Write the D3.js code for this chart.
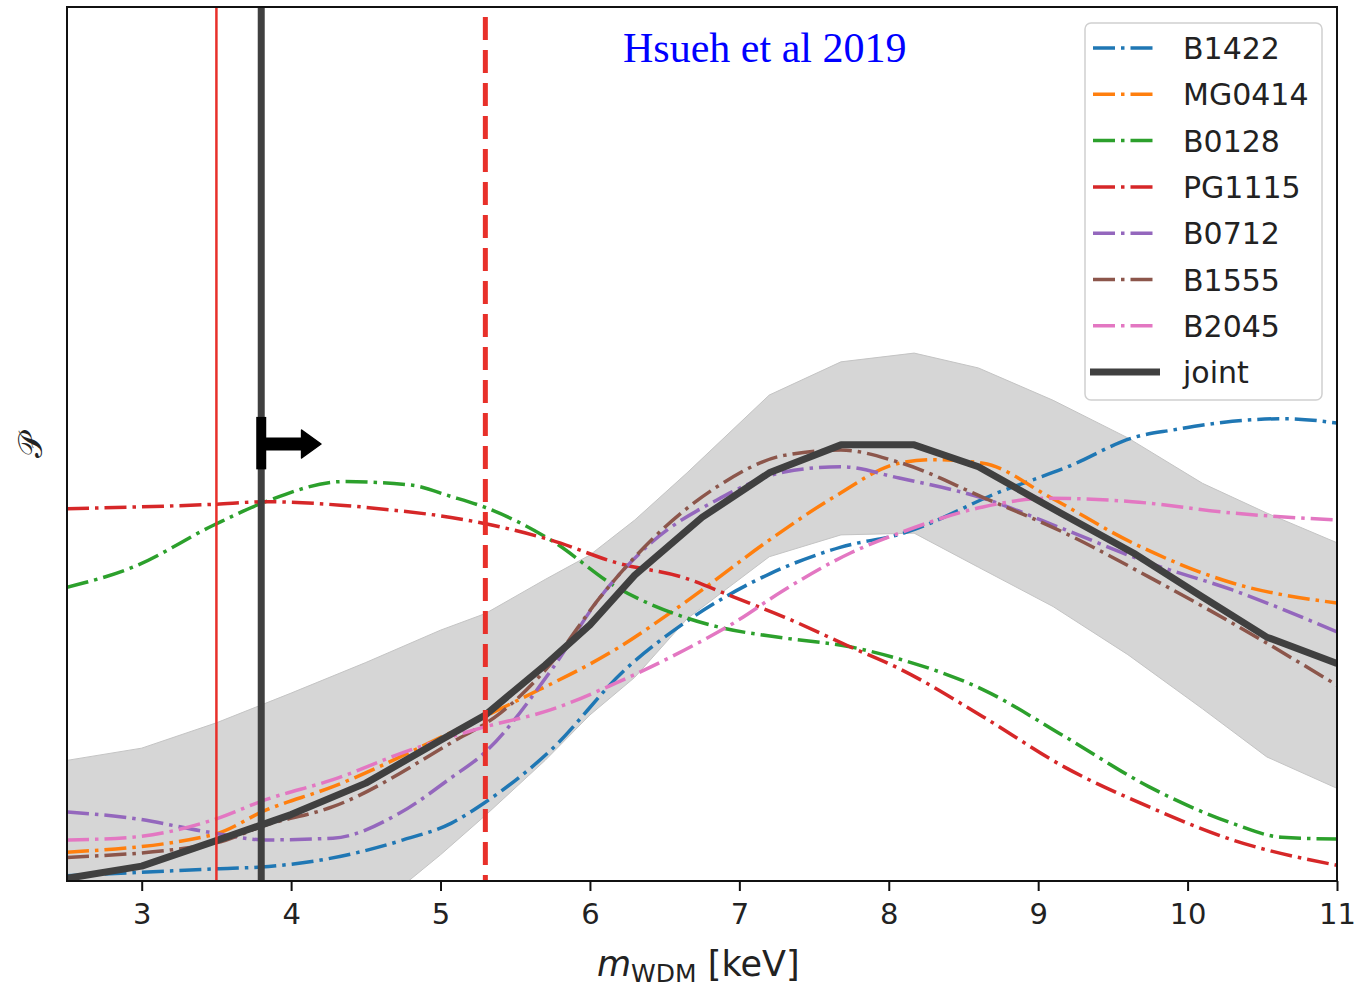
<!DOCTYPE html>
<html>
<head>
<meta charset="utf-8">
<script src="https://cdn.jsdelivr.net/npm/d3@7"></script>
<style>
  html, body { margin: 0; padding: 0; background: #fff; }
  svg { font-family: "DejaVu Sans", sans-serif; }
</style>
</head>
<body>
<div id="chart"></div>
<script>
// P(m_WDM) for each lens, plus joint and its band
// values are read off the figure, y in arbitrary units (0..1 = plot height)

const xTicks = [3, 4, 5, 6, 7, 8, 9, 10, 11];

const B1422 = [[2.5,0.006],[3.0,0.010],[3.5,0.014],[3.8,0.016],[4.2,0.024],[4.75,0.047],[5.07,0.066],[5.29,0.089],
  [5.74,0.150],[6.23,0.241],[6.63,0.295],[7.21,0.352],[7.68,0.382],[8.1,0.398],[8.74,0.445],[9.2,0.474],
  [9.65,0.508],[9.9,0.516],[10.3,0.526],[10.65,0.529],[11,0.524]];
const MG0414 = [[2.5,0.033],[3.48,0.053],[3.83,0.081],[4.28,0.108],[5.07,0.170],[5.52,0.207],[6.2,0.268],
  [6.63,0.318],[7.2,0.390],[7.63,0.439],[8.07,0.478],[8.3,0.482],[8.63,0.478],[9.08,0.439],[9.63,0.387],
  [10.3,0.341],[11,0.318]];
const B0128 = [[2.5,0.336],[2.94,0.359],[3.48,0.407],[3.83,0.434],[4.35,0.457],[4.8,0.453],[5.07,0.440],
  [5.29,0.428],[5.74,0.390],[6.18,0.336],[6.63,0.302],[6.85,0.291],[7.3,0.278],[7.74,0.268],[8.07,0.254],
  [8.63,0.219],[9.18,0.165],[9.74,0.108],[10.3,0.066],[10.63,0.050],[11,0.048]];
const PG1115 = [[2.5,0.426],[3.48,0.431],[3.83,0.434],[4.33,0.430],[4.7,0.424],[5.07,0.416],[5.74,0.390],
  [6.18,0.364],[6.63,0.347],[6.96,0.325],[7.3,0.302],[7.74,0.268],[8.07,0.243],[8.63,0.188],[9.18,0.130],
  [9.74,0.085],[10.3,0.047],[11,0.018]];
const B0712 = [[2.5,0.079],[2.93,0.072],[3.48,0.055],[3.83,0.047],[4.28,0.049],[4.73,0.078],[5.07,0.118],
  [5.29,0.146],[5.74,0.241],[6.07,0.325],[6.41,0.387],[6.85,0.436],[7.3,0.468],[7.68,0.474],[8.07,0.461],
  [8.63,0.438],[9.18,0.402],[9.74,0.364],[10.3,0.333],[11,0.285]];
const B1555 = [[2.5,0.027],[3.48,0.043],[3.83,0.064],[4.28,0.085],[5.07,0.158],[5.4,0.192],[5.74,0.249],
  [6.07,0.325],[6.41,0.390],[6.85,0.451],[7.3,0.487],[7.68,0.493],[8.07,0.479],[8.63,0.439],[9.18,0.398],
  [9.74,0.348],[10.3,0.295],[11,0.224]];
const B2045 = [[2.5,0.047],[2.93,0.050],[3.48,0.070],[3.83,0.093],[4.28,0.116],[4.8,0.150],[5.07,0.165],
  [5.29,0.176],[5.74,0.196],[6.18,0.227],[6.63,0.264],[6.96,0.295],[7.3,0.333],[7.74,0.375],[8.07,0.398],
  [8.63,0.428],[9.08,0.438],[9.63,0.434],[10.3,0.421],[11,0.413]];

const jointX = [2.5, 3.0, 3.48, 4.0, 4.5, 5.0, 5.3, 5.7, 6.0, 6.3, 6.75, 7.2, 7.68, 8.17, 8.6, 9.15, 9.64, 10.1, 10.53, 11];
const jointY = [0.003, 0.017, 0.045, 0.076, 0.112, 0.161, 0.190, 0.247, 0.293, 0.350, 0.416, 0.467, 0.499, 0.499, 0.474, 0.421, 0.375, 0.325, 0.279, 0.249];

const bandX = [2.5, 3.0, 3.5, 4.0, 4.5, 5.0, 5.3, 5.7, 6.0, 6.3, 6.65, 7.2, 7.68, 8.17, 8.6, 9.1, 9.6, 10.1, 10.53, 11];
const bandHi = [0.138, 0.152, 0.181, 0.215, 0.250, 0.287, 0.306, 0.345, 0.373, 0.413, 0.467, 0.556, 0.594, 0.604, 0.587, 0.550, 0.507, 0.455, 0.421, 0.387];
const bandLo = [-0.25, -0.18, -0.12, -0.08, -0.04, 0.030, 0.075, 0.138, 0.190, 0.233, 0.300, 0.371, 0.396, 0.398, 0.359, 0.314, 0.259, 0.197, 0.142, 0.106];

const seriesNames = ["B1422", "MG0414", "B0128", "PG1115", "B0712", "B1555", "B2045"];
const seriesData = [B1422, MG0414, B0128, PG1115, B0712, B1555, B2045];
const seriesColors = ["#1f77b4", "#ff7f0e", "#2ca02c", "#d62728", "#9467bd", "#8c564b", "#e377c2"];

// limits drawn as vertical lines
const limitSolid = 3.5;   // thin red
const limitJoint = 3.8;   // thick grey with arrow
const limitDashed = 5.3;  // red dashed

const W = 1354, H = 987;
const plot = { left: 67, right: 1337, top: 7, bottom: 881 };

const x = d3.scaleLinear().domain([2.5, 11]).range([plot.left, plot.right]);
const y = d3.scaleLinear().domain([0, 1]).range([plot.bottom, plot.top]);

const svg = d3.select("#chart").append("svg")
  .attr("width", W)
  .attr("height", H);

svg.append("defs").append("clipPath").attr("id", "clip")
  .append("rect")
  .attr("x", plot.left).attr("y", plot.top)
  .attr("width", plot.right - plot.left).attr("height", plot.bottom - plot.top);

const g = svg.append("g").attr("clip-path", "url(#clip)");

// grey band round the joint
const band = d3.area()
  .x((d, i) => x(bandX[i]))
  .y0((d, i) => y(bandLo[i]))
  .y1((d, i) => y(bandHi[i]));

g.append("path")
  .datum(bandX)
  .attr("d", band)
  .attr("fill", "#d6d6d6")
  .attr("stroke", "#c4c4c4")
  .attr("stroke-width", 1);

const line = d3.line()
  .x(d => x(d[0]))
  .y(d => y(d[1]))
  .curve(d3.curveMonotoneX);

const dashDot = "22 6 3.5 6";

seriesData.forEach((data, i) => {
  g.append("path")
    .datum(data)
    .attr("d", line)
    .attr("fill", "none")
    .attr("stroke", seriesColors[i])
    .attr("stroke-width", 3.5)
    .attr("stroke-dasharray", dashDot);
});

// joint
g.append("path")
  .datum(jointX.map((v, i) => [v, jointY[i]]))
  .attr("d", d3.line().x(d => x(d[0])).y(d => y(d[1])))
  .attr("fill", "none")
  .attr("stroke", "#404040")
  .attr("stroke-width", 7)
  .attr("stroke-linejoin", "round");

// vertical limits
g.append("line")
  .attr("x1", x(limitSolid)).attr("x2", x(limitSolid))
  .attr("y1", plot.top).attr("y2", plot.bottom)
  .attr("stroke", "#e8302a").attr("stroke-width", 2.5);

g.append("line")
  .attr("x1", x(limitDashed)).attr("x2", x(limitDashed))
  .attr("y1", plot.top + 10).attr("y2", plot.bottom)
  .attr("stroke", "#e8302a").attr("stroke-width", 5)
  .attr("stroke-dasharray", "23 10");

g.append("line")
  .attr("x1", x(limitJoint)).attr("x2", x(limitJoint))
  .attr("y1", plot.top).attr("y2", plot.bottom)
  .attr("stroke", "#404040").attr("stroke-width", 7);

// arrow pointing to larger masses
const arrowY = 0.500;
const xa = x(limitJoint);
g.append("rect")
  .attr("x", xa - 5).attr("y", y(0.531))
  .attr("width", 10).attr("height", y(0.471) - y(0.531))
  .attr("fill", "#000");
g.append("rect")
  .attr("x", xa).attr("y", y(arrowY) - 6.5)
  .attr("width", x(4.08) - xa).attr("height", 13)
  .attr("fill", "#000");
g.append("path")
  .attr("d", `M${x(4.07)},${y(arrowY) - 14}L${x(4.2)},${y(arrowY)}L${x(4.07)},${y(arrowY) + 14}Z`)
  .attr("fill", "#000")
  .attr("stroke", "#000")
  .attr("stroke-width", 1.5)
  .attr("stroke-linejoin", "round");

// frame
svg.append("rect")
  .attr("x", plot.left).attr("y", plot.top)
  .attr("width", plot.right - plot.left).attr("height", plot.bottom - plot.top)
  .attr("fill", "none")
  .attr("stroke", "#111")
  .attr("stroke-width", 2);

// x axis
const xAxis = svg.append("g")
  .attr("transform", `translate(0,${plot.bottom})`)
  .call(d3.axisBottom(x).tickValues(xTicks).tickSize(10).tickPadding(12).tickFormat(d3.format("d")));
xAxis.select(".domain").remove();
xAxis.selectAll(".tick line").attr("stroke", "#111").attr("stroke-width", 2);
xAxis.selectAll(".tick text")
  .style("font-size", "29px")
  .style("font-family", "DejaVu Sans")
  .attr("fill", "#222");

// x label
const xl = svg.append("text")
  .attr("x", 597).attr("y", 976)
  .style("font-size", "35px")
  .attr("fill", "#222");
xl.append("tspan").style("font-style", "italic").text("m");
xl.append("tspan").style("font-size", "25px").attr("dy", 6).text("WDM");
xl.append("tspan").attr("dy", -6).text(" [keV]");

// y label
svg.append("text")
  .attr("transform", "translate(42,445) rotate(-90)")
  .attr("text-anchor", "middle")
  .style("font-size", "34px")
  .style("font-family", "DejaVu Serif, serif")
  .attr("fill", "#222")
  .text("𝒫");

// title inside plot
svg.append("text")
  .attr("x", 623).attr("y", 62)
  .style("font-family", "'Liberation Serif', 'Times New Roman', serif")
  .style("font-size", "42px")
  .attr("fill", "#0000ff")
  .text("Hsueh et al 2019");

// legend
const leg = svg.append("g");
leg.append("rect")
  .attr("x", 1085).attr("y", 23)
  .attr("width", 237).attr("height", 377)
  .attr("rx", 6)
  .attr("fill", "#fff").attr("fill-opacity", 0.8)
  .attr("stroke", "#d0d0d0").attr("stroke-width", 1.5);

const legNames = seriesNames.concat(["joint"]);
const legColors = seriesColors.concat(["#404040"]);
legNames.forEach((name, i) => {
  const cy = 48 + i * 46.3;
  const isJoint = name === "joint";
  leg.append("line")
    .attr("x1", isJoint ? 1090 : 1093).attr("x2", isJoint ? 1160 : 1157)
    .attr("y1", cy).attr("y2", cy)
    .attr("stroke", legColors[i])
    .attr("stroke-width", isJoint ? 7 : 3.5)
    .attr("stroke-dasharray", isJoint ? null : dashDot);
  leg.append("text")
    .attr("x", 1183).attr("y", cy + 11)
    .style("font-size", "30px")
    .attr("fill", "#222")
    .text(name);
});
</script>
</body>
</html>
